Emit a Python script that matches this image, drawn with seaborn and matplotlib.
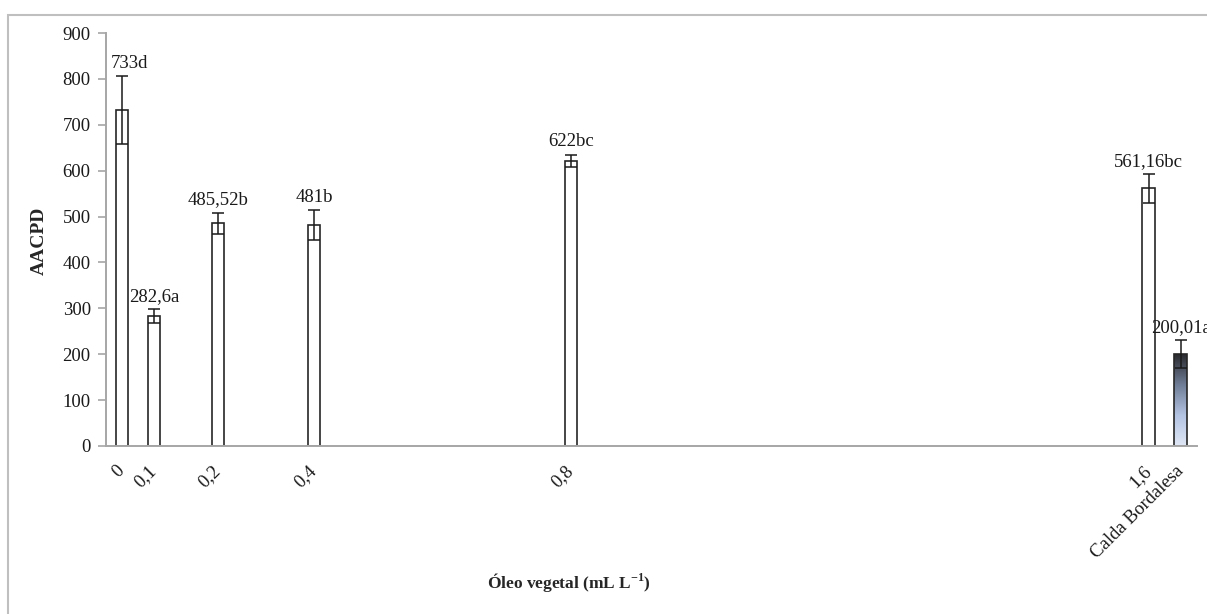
import numpy as np
import pandas as pd
import seaborn as sns
import matplotlib.pyplot as plt
from matplotlib.colors import LinearSegmentedColormap
from matplotlib.patches import Rectangle

# values
doses = ['0', '0,1', '0,2', '0,4', '0,8', '1,6', 'Calda Bordalesa']
aacpd = [733, 282.6, 485.52, 481, 622, 561.16, 200.01]
erro = [74, 15, 23, 33, 13, 31, 31]
letras = ['733d', '282,6a', '485,52b', '481b', '622bc', '561,16bc', '200,01a']

# horizontal placement of the bars (the original axis is not linear)
x_pos = [0.5, 1.5, 3.5, 6.5, 14.53, 32.58, 33.58]

df = pd.DataFrame({'x': x_pos, 'aacpd': aacpd, 'dose': doses})

sns.set_style('white')
plt.rcParams['font.family'] = ['Liberation Serif', 'DejaVu Serif']
plt.rcParams['mathtext.fontset'] = 'custom'
plt.rcParams['mathtext.rm'] = 'Liberation Serif'
plt.rcParams['mathtext.bf'] = 'Liberation Serif:bold'

fig = plt.figure(figsize=(12.07, 6.14), dpi=100)
ax = fig.add_axes([106 / 1207, 1 - 446 / 614, (1197 - 106) / 1207, (446 - 33) / 614])

sns.barplot(data=df, x='x', y='aacpd', native_scale=True, width=0.4,
            color='white', saturation=1, edgecolor='#262626', linewidth=1.2,
            errorbar=None, ax=ax, zorder=2)

ax.errorbar(x_pos, aacpd, yerr=erro, fmt='none', ecolor='#1a1a1a',
            elinewidth=1.1, capsize=4, capthick=1.1, zorder=3)

# gradient fill for the Calda Bordalesa bar
grad = LinearSegmentedColormap.from_list(
    'calda', ['#2a2a2e', '#6f7d96', '#b3c3e2', '#e0e8f6'])
bar = ax.patches[-1]
bx, by = bar.get_x(), bar.get_y()
bw, bh = bar.get_width(), bar.get_height()
bar.set_facecolor('none')
img = ax.imshow(np.linspace(0, 1, 256).reshape(-1, 1), cmap=grad, aspect='auto',
                extent=[bx, bx + bw, by, by + bh], origin='upper', zorder=1.5)
img.set_clip_path(bar)

for i, (xi, yi, ei, lab) in enumerate(zip(x_pos, aacpd, erro, letras)):
    dx = 5 if i == 0 else 0  # first label sits a bit right of its bar
    ax.annotate(lab, (xi, yi + ei), xytext=(dx, 3), textcoords='offset points',
                ha='center', va='bottom', fontsize=13.5, color='#1a1a1a',
                annotation_clip=False)

ax.set_xlim(0, 34.09)
ax.set_ylim(0, 900)
ax.set_yticks(range(0, 901, 100))
ax.set_xticks(x_pos)
ax.set_xticklabels(doses, rotation=45, ha='right', va='center',
                   rotation_mode='anchor')
ax.tick_params(axis='x', length=0, pad=16, labelsize=13.5, labelcolor='#1a1a1a')
ax.tick_params(axis='y', length=6, width=1.2, color='#a6a6a6', pad=5,
               labelsize=13.5, labelcolor='#1a1a1a', left=True)

for side in ['top', 'right']:
    ax.spines[side].set_visible(False)
for side in ['left', 'bottom']:
    ax.spines[side].set_color('#a6a6a6')
    ax.spines[side].set_linewidth(1.4)

ax.set_ylabel('AACPD', fontsize=14, fontweight='bold')
ax.set_xlabel(r'Óleo vegetal (mL L$^{\mathbf{-1}}$)', fontsize=12.5,
              fontweight='bold')
ax.xaxis.set_label_coords((569 - 106) / 1091, -(571 - 446) / 413)
ax.yaxis.set_label_coords(-(106 - 48) / 1091, (446 - 241) / 413)

# outer chart frame (cut off at right and bottom)
top = 1 - 15 / 614
fig.add_artist(Rectangle((8 / 1207, -0.2), 1.2, top + 0.2,
                         transform=fig.transFigure, fill=False,
                         edgecolor='#bfbfbf', linewidth=1.5))

fig.savefig('out.png', dpi=100)
